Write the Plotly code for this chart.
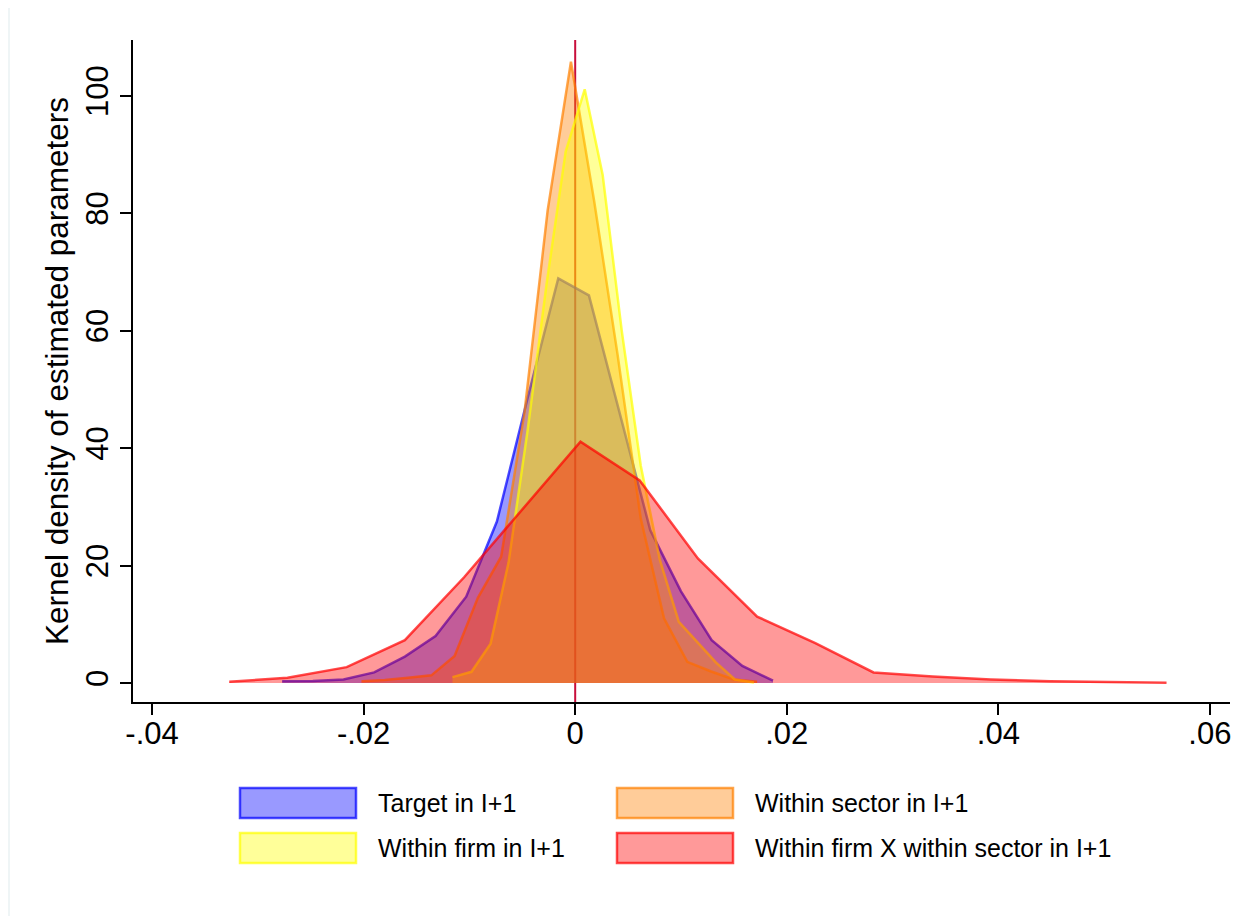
import plotly.graph_objects as go

# ---------------- data ----------------
target_x = [-0.0277, -0.0248, -0.0219, -0.0190, -0.0161, -0.0132, -0.0103, -0.0074, -0.0045,
            -0.0016, 0.0013, 0.0042, 0.0071, 0.0100, 0.0129, 0.0158, 0.0187]
target_y = [0.3, 0.35, 0.6, 1.8, 4.5, 8.0, 14.7, 27.5, 48.5, 68.9, 66.0, 46.0, 26.0, 15.6, 7.3, 2.9, 0.4]

sector_x = [-0.0202, -0.0180, -0.0158, -0.0136, -0.0114, -0.0092, -0.0070, -0.0048, -0.0026,
            -0.0004, 0.0018, 0.0040, 0.0062, 0.0084, 0.0106, 0.0128, 0.0150, 0.0172]
sector_y = [0.3, 0.5, 0.9, 1.3, 4.6, 14.5, 21.5, 46.0, 80.5, 105.8, 82.0, 56.0, 28.0, 11.0, 3.6, 2.0, 0.6, 0.2]

firm_x = [-0.0116, -0.0098, -0.0080, -0.0063, -0.0045, -0.0027, -0.0009, 0.0009, 0.0026,
          0.0044, 0.0062, 0.0080, 0.0098, 0.0115, 0.0133, 0.0151, 0.0169]
firm_y = [1.0, 1.9, 6.7, 20.5, 43.0, 68.0, 90.5, 101.1, 86.5, 60.0, 37.0, 21.0, 10.4, 7.0, 3.5, 0.6, 0.1]

fxs_x = [-0.0327, -0.0272, -0.0216, -0.0161, -0.0105, -0.0050, 0.0005, 0.0061, 0.0116,
         0.0172, 0.0227, 0.0282, 0.0338, 0.0393, 0.0449, 0.0504, 0.0559]
fxs_y = [0.2, 0.9, 2.7, 7.3, 18.0, 29.5, 41.1, 34.5, 21.2, 11.3, 6.8, 1.8, 1.1, 0.6, 0.3, 0.15, 0.05]

series_names = ["Target in I+1", "Within sector in I+1", "Within firm in I+1",
                "Within firm X within sector in I+1"]

x_tickvals = [-0.04, -0.02, 0, 0.02, 0.04, 0.06]
x_ticktext = ["-.04", "-.02", "0", ".02", ".04", ".06"]
y_tickvals = [0, 20, 40, 60, 80, 100]
y_title = "Kernel density of estimated parameters"

# ---------------- styling ----------------
OFF = 8                                   # page body margin of the browser
W, H = 1249 - OFF, 916 - OFF
L, R, T, B = 133 - OFF, 1230 - OFF, 40 - OFF, 702 - OFF   # plot area in figure pixels
FONT = "Liberation Sans, Arial, Helvetica, sans-serif"

fills = ["rgba(0,0,255,0.4)", "rgba(255,128,0,0.4)", "rgba(255,255,0,0.4)", "rgba(255,0,0,0.4)"]
lines = ["rgba(0,0,255,0.7)", "rgba(255,128,0,0.7)", "rgba(255,255,0,0.7)", "rgba(255,0,0,0.7)"]

xs = [target_x, sector_x, firm_x, fxs_x]
ys = [target_y, sector_y, firm_y, fxs_y]

fig = go.Figure()
for i in range(4):
    fig.add_trace(go.Scatter(
        x=xs[i], y=ys[i], mode="lines", fill="tozeroy",
        fillcolor=fills[i], line=dict(color=lines[i], width=2.5),
        name=series_names[i], showlegend=False, hoverinfo="skip"))


def px_x(p):
    # p is a page pixel coordinate
    return (p - OFF - L) / (R - L)


def px_y(p):
    return (B - (p - OFF)) / (B - T)


shapes = [
    # vertical reference line at 0 (below the areas)
    dict(type="line", xref="x", yref="paper", x0=0, x1=0, y0=0, y1=1,
         line=dict(color="rgb(200,15,60)", width=2), layer="below"),
    # faint left border of graph region
    dict(type="line", xref="paper", yref="paper", x0=px_x(9), x1=px_x(9), y0=px_y(8), y1=px_y(916),
         line=dict(color="rgb(234,242,243)", width=1.5), layer="below"),
]

annotations = []
# manual legend, 2 columns x 2 rows (Stata style)
legend_order = [0, 1, 2, 3]
cols_px = [240, 617]
rows_px = [788, 833]
sw_w, sw_h = 116, 30
for k, idx in enumerate(legend_order):
    c = k % 2
    r = k // 2
    x0 = cols_px[c]
    y0 = rows_px[r]
    shapes.append(dict(type="rect", xref="paper", yref="paper",
                       x0=px_x(x0), x1=px_x(x0 + sw_w), y0=px_y(y0), y1=px_y(y0 + sw_h),
                       fillcolor=fills[idx], line=dict(color=lines[idx], width=2.5)))
    annotations.append(dict(xref="paper", yref="paper", x=px_x(x0 + sw_w + 20), y=px_y(y0 + sw_h / 2),
                            text=series_names[idx], showarrow=False, xanchor="left", yanchor="middle",
                            font=dict(family=FONT, size=25, color="black")))

fig.update_layout(
    width=W, height=H,
    margin=dict(l=L, r=W - R, t=T, b=H - B, pad=0),
    paper_bgcolor="white", plot_bgcolor="white",
    font=dict(family=FONT, color="black"),
    shapes=shapes, annotations=annotations,
    showlegend=False,
    xaxis=dict(range=[-0.0418, 0.0619], tickvals=x_tickvals, ticktext=x_ticktext,
               showgrid=False, zeroline=False, showline=True, linecolor="black", linewidth=1.8,
               ticks="outside", ticklen=11, tickwidth=1.8, tickcolor="black",
               ticklabelstandoff=-8,
               tickfont=dict(family=FONT, size=31, color="black")),
    yaxis=dict(range=[-3.24, 109.5], tickvals=y_tickvals,
               showgrid=False, zeroline=False, showline=True, linecolor="black", linewidth=1.8,
               ticks="outside", ticklen=11, tickwidth=1.8, tickcolor="black", tickangle=-90,
               tickfont=dict(family=FONT, size=31, color="black"),
               title=dict(text=y_title, font=dict(family=FONT, size=31.5, color="black"), standoff=2)),
)

fig.write_html("out.html")
